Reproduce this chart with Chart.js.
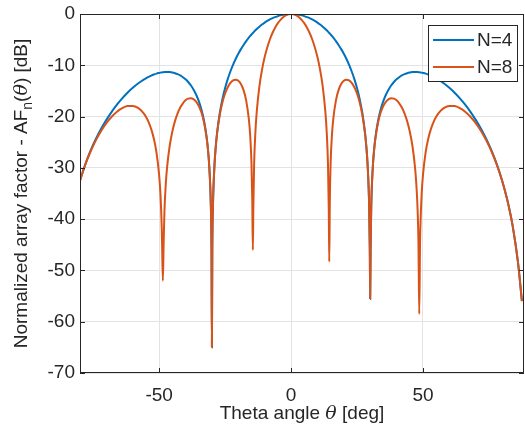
<!DOCTYPE html>
<html>
<head>
<meta charset="utf-8">
<script src="https://cdn.jsdelivr.net/npm/chart.js@4.4.0/dist/chart.umd.min.js"></script>
<style>
  html, body { margin: 0; padding: 0; background: #fff; }
</style>
</head>
<body>
<canvas id="afChart" width="525" height="436"></canvas>
<script>
// theta in degrees, normalized array factor in dB
const theta = [
  -80, -78, -76, -74, -72, -70, -68, -66, -64, -62, -60, -58, -56,
  -55, -54, -53, -52, -51, -50, -49.5, -49, -48.9, -48.59, -48.3, -48, -47.5, -47,
  -46, -45, -44, -43, -42, -41, -40, -39, -38, -37, -36, -35, -34, -33, -32, -31.5,
  -31, -30.4, -30.15, -30, -29.85, -29.6, -29, -28.5, -28, -27, -26, -25, -24, -23,
  -22, -21, -20, -19, -18, -17, -16, -15.5, -15, -14.7, -14.48, -14.3, -14, -13.5,
  -13, -12, -11, -10, -9, -8, -7, -6, -5, -4, -3, -2, -1,
  0,
  1, 2, 3, 4, 5, 6, 7, 8, 9, 10, 11, 12, 13, 13.5, 14, 14.3, 14.48, 14.7, 15, 15.5,
  16, 17, 18, 19, 20, 21, 22, 23, 24, 25, 26, 27, 28, 28.5, 29, 29.6, 29.85, 30,
  30.15, 30.4, 31, 31.5, 32, 33, 34, 35, 36, 37, 38, 39, 40, 41, 42, 43, 44, 45,
  46, 47, 47.5, 48, 48.3, 48.59, 48.9, 49, 49.5, 50, 51, 52, 53, 54, 55,
  56, 58, 60, 62, 64, 66, 68, 70, 72, 74, 76, 78, 80, 82, 84, 86, 87, 87.5
];
const afN4 = [
  -32.46, -29.31, -26.66, -24.38, -22.39, -20.64, -19.08, -17.69, -16.46, -15.36, -14.40, -13.56, -12.84,
  -12.53, -12.26, -12.01, -11.80, -11.62, -11.49, -11.43, -11.39, -11.38, -11.35, -11.34, -11.33, -11.31, -11.30,
  -11.33, -11.41, -11.54, -11.73, -11.99, -12.32, -12.74, -13.26, -13.90, -14.70, -15.69, -16.94, -18.56, -20.76, -23.99, -26.35,
  -29.74, -37.54, -46.0, -65.0, -45.9, -37.35, -29.24, -25.60, -22.99, -19.26, -16.56, -14.44, -12.70, -11.21,
  -9.92, -8.78, -7.76, -6.85, -6.03, -5.28, -4.61, -4.30, -4.00, -3.82, -3.70, -3.60, -3.44, -3.18,
  -2.93, -2.47, -2.06, -1.69, -1.36, -1.07, -0.81, -0.60, -0.41, -0.26, -0.15, -0.07, -0.02,
  0,
  -0.02, -0.07, -0.15, -0.26, -0.41, -0.60, -0.81, -1.07, -1.36, -1.69, -2.06, -2.47, -2.93, -3.18, -3.44, -3.60, -3.70, -3.82, -4.00, -4.30,
  -4.61, -5.28, -6.03, -6.85, -7.76, -8.78, -9.92, -11.21, -12.70, -14.44, -16.56, -19.26, -22.99, -25.60, -29.24, -37.35, -45.9, -55.5,
  -46.0, -37.54, -29.74, -26.35, -23.99, -20.76, -18.56, -16.94, -15.69, -14.70, -13.90, -13.26, -12.74, -12.32, -11.99, -11.73, -11.54, -11.41,
  -11.33, -11.30, -11.31, -11.33, -11.34, -11.35, -11.38, -11.39, -11.43, -11.49, -11.62, -11.80, -12.01, -12.26, -12.53,
  -12.84, -13.56, -14.40, -15.36, -16.46, -17.69, -19.08, -20.64, -22.39, -24.38, -26.66, -29.31, -32.46, -36.32, -41.31, -48.35, -53.34, -56.0
];
const afN8 = [
  -32.50, -29.39, -26.81, -24.64, -22.81, -21.28, -20.03, -19.05, -18.35, -17.96, -17.92, -18.32, -19.28,
  -20.05, -21.07, -22.45, -24.32, -27.03, -31.43, -35.13, -41.97, -44.38, -52.0, -44.85, -38.64, -33.26, -29.94,
  -25.69, -22.90, -20.89, -19.38, -18.24, -17.41, -16.84, -16.51, -16.43, -16.61, -17.08, -17.90, -19.17, -21.10, -24.14, -26.43,
  -29.78, -37.55, -46.0, -65.0, -45.9, -37.36, -29.28, -25.69, -23.15, -19.62, -17.23, -15.51, -14.28, -13.44,
  -12.95, -12.80, -13.01, -13.65, -14.85, -16.88, -20.51, -23.62, -29.13, -36.4, -46.0, -38.1, -29.33, -22.85,
  -19.03, -14.13, -10.85, -8.40, -6.48, -4.92, -3.66, -2.62, -1.78, -1.13, -0.63, -0.28, -0.07,
  0,
  -0.07, -0.28, -0.63, -1.13, -1.78, -2.62, -3.66, -4.92, -6.48, -8.40, -10.85, -14.13, -19.03, -22.85, -29.33, -38.1, -48.3, -36.4, -29.13, -23.62,
  -20.51, -16.88, -14.85, -13.65, -13.01, -12.80, -12.95, -13.44, -14.28, -15.51, -17.23, -19.62, -23.15, -25.69, -29.28, -37.36, -45.9, -55.5,
  -46.0, -37.55, -29.78, -26.43, -24.14, -21.10, -19.17, -17.90, -17.08, -16.61, -16.43, -16.51, -16.84, -17.41, -18.24, -19.38, -20.89, -22.90,
  -25.69, -29.94, -33.26, -38.64, -44.85, -58.5, -44.38, -41.97, -35.13, -31.43, -27.03, -24.32, -22.45, -21.07, -20.05,
  -19.28, -18.32, -17.92, -17.96, -18.35, -19.05, -20.03, -21.28, -22.81, -24.64, -26.81, -29.39, -32.50, -36.34, -41.32, -48.35, -53.34, -56.0
];
const xTicks = [-50, 0, 50];
const seriesNames = ['N=4', 'N=8'];
const seriesColors = ['#0072BD', '#D95319'];

const FONT = '"Liberation Sans", Arial, sans-serif';
const MATH_FONT = '"DejaVu Serif", "Liberation Serif", serif';
const INK = '#262626';
const FS = 19;

function toPoints(values) {
  return theta.map((t, i) => ({ x: t, y: values[i] }));
}

// draw a run of text pieces (plain / italic / subscript), centred on 0,0
function drawParts(ctx, parts, size) {
  const fontOf = p => p.italic ? `italic ${size}px ${MATH_FONT}`
    : p.sub ? `${Math.round(size * 0.72)}px ${FONT}` : `${size}px ${FONT}`;
  let total = 0;
  parts.forEach(p => { ctx.font = fontOf(p); total += ctx.measureText(p.t).width; });
  let x = -total / 2;
  ctx.textBaseline = 'middle';
  ctx.textAlign = 'left';
  parts.forEach(p => {
    ctx.font = fontOf(p);
    ctx.fillText(p.t, x, p.sub ? size * 0.32 : 0);
    x += ctx.measureText(p.t).width;
  });
}

const framePlugin = {
  id: 'frame',
  afterDatasetsDraw(chart) {
    const { ctx, chartArea: a, scales: { x, y } } = chart;
    ctx.save();
    ctx.strokeStyle = INK;
    ctx.lineWidth = 1;
    ctx.strokeRect(a.left + 0.5, a.top + 0.5, a.right - a.left - 1, a.bottom - a.top - 1);
    ctx.beginPath();
    xTicks.forEach(v => {
      const px = Math.round(x.getPixelForValue(v)) + 0.5;
      ctx.moveTo(px, a.bottom); ctx.lineTo(px, a.bottom - 5);
      ctx.moveTo(px, a.top); ctx.lineTo(px, a.top + 5);
    });
    y.ticks.forEach(t => {
      const py = Math.round(y.getPixelForValue(t.value)) + 0.5;
      ctx.moveTo(a.left, py); ctx.lineTo(a.left + 5, py);
      ctx.moveTo(a.right, py); ctx.lineTo(a.right - 5, py);
    });
    ctx.stroke();
    ctx.restore();
  },
  afterDraw(chart) {
    const { ctx, chartArea: a } = chart;
    ctx.save();
    ctx.fillStyle = INK;
    // x title
    ctx.save();
    ctx.translate((a.left + a.right) / 2, 414);
    drawParts(ctx, [{ t: 'Theta angle ' }, { t: 'θ', italic: true }, { t: ' [deg]' }], FS);
    ctx.restore();
    // y title
    ctx.save();
    ctx.translate(22, (a.top + a.bottom) / 2);
    ctx.rotate(-Math.PI / 2);
    drawParts(ctx, [{ t: 'Normalized array factor - AF' }, { t: 'n', sub: true }, { t: '(' },
      { t: 'θ', italic: true }, { t: ') [dB]' }], FS);
    ctx.restore();

    // legend box, top right inside the axes
    const bx = 428, by = 25, bw = 89, bh = 56;
    ctx.fillStyle = '#fff';
    ctx.fillRect(bx, by, bw, bh);
    ctx.strokeStyle = INK;
    ctx.lineWidth = 1;
    ctx.strokeRect(bx + 0.5, by + 0.5, bw, bh);
    seriesNames.forEach((name, i) => {
      const ly = by + 15 + i * 27;
      ctx.strokeStyle = seriesColors[i];
      ctx.lineWidth = 2;
      ctx.beginPath();
      ctx.moveTo(bx + 5, ly);
      ctx.lineTo(bx + 46, ly);
      ctx.stroke();
      ctx.fillStyle = INK;
      ctx.font = `${FS}px ${FONT}`;
      ctx.textAlign = 'left';
      ctx.textBaseline = 'middle';
      ctx.fillText(name, bx + 49, ly + 1);
    });
    ctx.restore();
  }
};

new Chart(document.getElementById('afChart'), {
  type: 'line',
  data: {
    datasets: [afN4, afN8].map((vals, i) => ({
      label: seriesNames[i],
      data: toPoints(vals),
      borderColor: seriesColors[i],
      borderWidth: 2,
      pointRadius: 0,
      cubicInterpolationMode: 'monotone',
      fill: false,
      order: seriesNames.length - i   // later series drawn on top, as in the figure
    }))
  },
  options: {
    responsive: false,
    devicePixelRatio: 1,
    animation: false,
    layout: { padding: { top: 14, right: 1, left: 0, bottom: 0 } },
    plugins: { legend: { display: false }, tooltip: { enabled: false } },
    scales: {
      x: {
        type: 'linear',
        min: -80,
        max: 88.3,
        afterBuildTicks: s => { s.ticks = xTicks.map(v => ({ value: v })); },
        afterFit: s => { s.height = 63; s.paddingLeft = 0; s.paddingRight = 0; },
        grid: { color: '#e3e3e3', drawTicks: false },
        border: { display: false },
        ticks: { autoSkip: false, maxRotation: 0, padding: 11, color: INK, font: { family: FONT, size: FS } }
      },
      y: {
        min: -70,
        max: 0,
        afterFit: s => { s.width = 80; s.paddingTop = 0; s.paddingBottom = 0; },
        grid: { color: '#e3e3e3', drawTicks: false },
        border: { display: false },
        ticks: { stepSize: 10, padding: 5, color: INK, font: { family: FONT, size: FS } }
      }
    }
  },
  plugins: [framePlugin]
});
</script>
</body>
</html>
